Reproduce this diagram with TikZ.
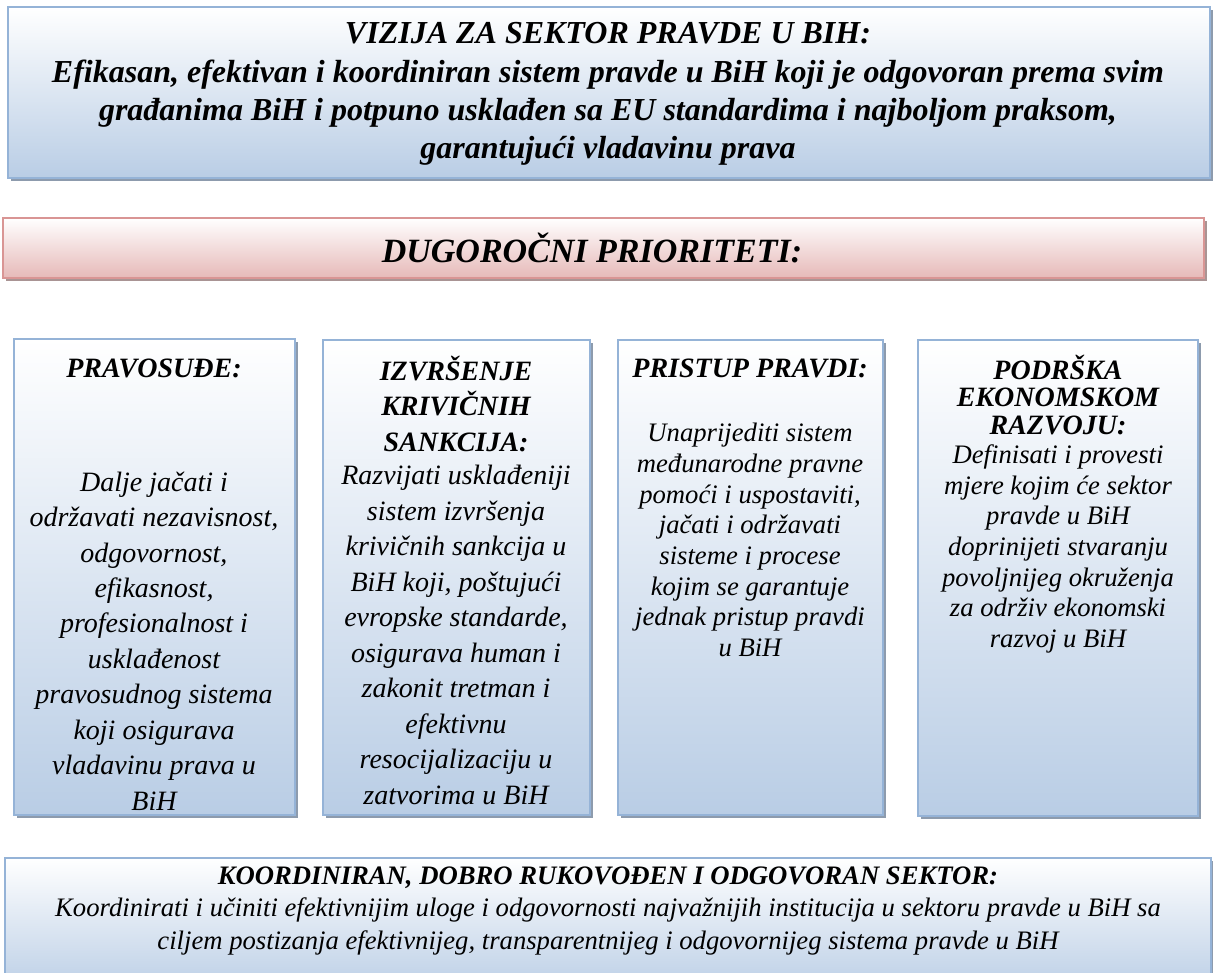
\documentclass[tikz,border=0pt]{standalone}
\usepackage{fontspec}
\setmainfont{Liberation Serif}
\usetikzlibrary{shadows,positioning}
\definecolor{boxblue}{HTML}{95B3D7}
\definecolor{fillblue}{HTML}{B9CDE5}
\definecolor{shadeblue}{HTML}{8D9BAD}
\definecolor{boxred}{HTML}{D99594}
\definecolor{fillred}{HTML}{E6B9B8}
\definecolor{shadered}{HTML}{A99494}

\begin{document}
\begin{tikzpicture}[x=0.75pt, y=-0.75pt]
	\tikzstyle{bluebox}=[draw=boxblue, line width=1.2pt, top color=white, bottom color=fillblue, drop shadow={shadow xshift=2.5pt, shadow yshift=-2.5pt, fill=shadeblue, opacity=1}]
	\tikzstyle{redbox}=[draw=boxred, line width=1.2pt, top color=white, bottom color=fillred, drop shadow={shadow xshift=2.5pt, shadow yshift=-2.5pt, fill=shadered, opacity=1}]
	\tikzstyle{head}=[align=center, font=\fontsize{21}{26.6}\selectfont\bfseries\itshape]
	\tikzstyle{body}=[align=center, font=\fontsize{21}{26.6}\selectfont\itshape]
	\tikzstyle{headsmall}=[align=center, font=\fontsize{21}{20.8}\selectfont\bfseries\itshape]
	\tikzstyle{bodysmall}=[align=center, font=\fontsize{20}{23}\selectfont\itshape]
	\clip (0,0) rectangle (1213,973);
	\fill[white] (0,0) rectangle (1213,973);

	\path[bluebox] (8,7) rectangle (1210,178);
	\path[redbox] (3,218) rectangle (1204,278);
	\path[bluebox] (14,339) rectangle (295,815);
	\path[bluebox] (323,340) rectangle (590,815);
	\path[bluebox] (618,340) rectangle (883,815);
	\path[bluebox] (918,340) rectangle (1198,816);
	\path[bluebox] (5,858) rectangle (1211,995);

	\node[align=center, font=\fontsize{24}{28.7}\selectfont\bfseries\itshape] (vision) at (608,94)
		{VIZIJA ZA SEKTOR PRAVDE U BIH:\\ Efikasan, efektivan i koordiniran sistem pravde u BiH koji je odgovoran prema svim\\ građanima BiH i potpuno usklađen sa EU standardima i najboljom praksom,\\ garantujući vladavinu prava};
	\node[font=\fontsize{25.5}{30}\selectfont\bfseries\itshape] (prior) at (592,248) {DUGOROČNI PRIORITETI:};

	\node[head] (pravosudje) at (154,368) {PRAVOSUĐE:};
	\node[body] (pravosudjetext) at (154,641) {Dalje jačati i\\ održavati nezavisnost,\\ odgovornost,\\ efikasnost,\\ profesionalnost i\\ usklađenost\\ pravosudnog sistema\\ koji osigurava\\ vladavinu prava u\\ BiH};

	\node[head] (sankcije) at (456,404) {IZVRŠENJE\\ KRIVIČNIH\\ SANKCIJA:};
	\node[body] (sankcijetext) at (456,635) {Razvijati usklađeniji\\ sistem izvršenja\\ krivičnih sankcija u\\ BiH koji, poštujući\\ evropske standarde,\\ osigurava human i\\ zakonit tretman i\\ efektivnu\\ resocijalizaciju u\\ zatvorima u BiH};

	\node[head] (pristup) at (750,368) {PRISTUP PRAVDI:};
	\node[bodysmall] (pristuptext) at (750,540) {Unaprijediti sistem\\ međunarodne pravne\\ pomoći i uspostaviti,\\ jačati i održavati\\ sisteme i procese\\ kojim se garantuje\\ jednak pristup pravdi\\ u BiH};

	\node[headsmall] (podrska) at (1058,395) {PODRŠKA\\ EKONOMSKOM\\ RAZVOJU:};
	\node[bodysmall] (podrskatext) at (1058,549) {Definisati i provesti\\ mjere kojim će sektor\\ pravde u BiH\\ doprinijeti stvaranju\\ povoljnijeg okruženja\\ za održiv ekonomski\\ razvoj u BiH};

	\node[align=center, font=\fontsize{20}{24.4}\selectfont\itshape] (sektor) at (608,911)
		{\textbf{KOORDINIRAN, DOBRO RUKOVOĐEN I ODGOVORAN SEKTOR:}\\ Koordinirati i učiniti efektivnijim uloge i odgovornosti najvažnijih institucija u sektoru pravde u BiH sa\\ ciljem postizanja efektivnijeg, transparentnijeg i odgovornijeg sistema pravde u BiH};
\end{tikzpicture}
\end{document}
